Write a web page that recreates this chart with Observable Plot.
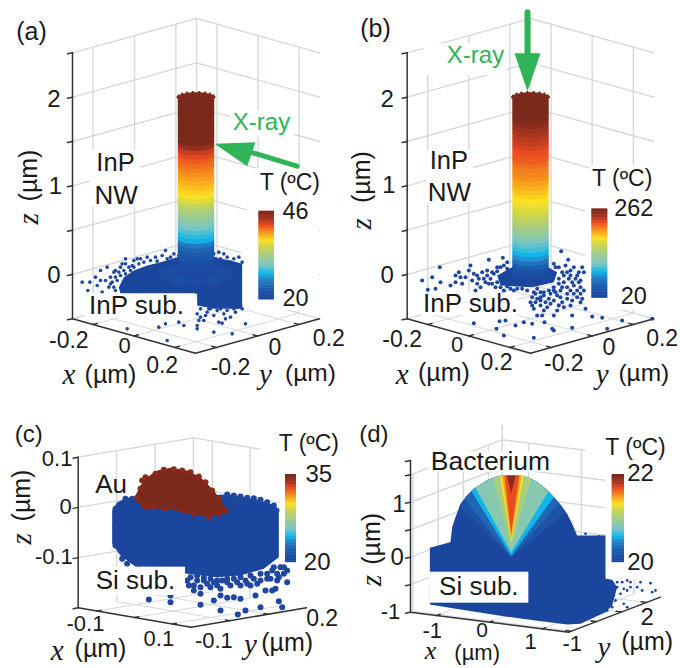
<!DOCTYPE html>
<html><head><meta charset="utf-8">
<script src="https://cdn.jsdelivr.net/npm/d3@7"></script>
<script src="https://cdn.jsdelivr.net/npm/@observablehq/plot@0.6"></script>
<style>html,body{margin:0;padding:0;background:#fff}svg{display:block}</style>
</head><body><div id="chart"></div>
<script>
// ---------- values ----------
const nwZ = [0,.05,.1,.15,.2,.25,.3,.35,.4,.45,.5,.55,.6,.65,.7,.75,.8,.85,.9,.95,1,1.05,1.1,1.15,1.2,1.25,1.3,1.35,1.4,1.45,1.5,1.55,1.6,1.65,1.7,1.75,1.8,1.85,1.9,1.95];
const nwTempA = [20.1,20.3,20.8,21.3,22.1,22.8,23.8,25.2,27.3,28.1,29.1,29.9,30.9,32,33,34,35.1,36.4,37.2,38,38.5,39,39.5,40,40.5,41,41.6,42.3,43.1,44.7,46,46,46,46,46,46,46,46,46,46];
const nwTempB = [25,35,49,64,80,90,100,107,117,126,136,143,151,158,168,172,177,182,187,192,197,201,206,209,211,216,221,223,226,231,235,238,243,247,255,260,262,262,262,262];
const tempRangeA = [20,46], tempRangeB = [20,262], tempRangeC = [20,35], tempRangeD = [20,22];

// scattered points and silhouettes of each panel, in the panel's picture plane
const scatterA = [[245,845],[262,870],[268,845],[285,830],[290,855],[300,810],[320,800],[305,875],[315,840],[330,830],[345,810],[350,840],[365,790],[375,790],[400,780],[340,860],[355,815],[325,860],[300,840],[370,810],[385,800],[420,775],[440,770],[465,770],[495,750],[485,765],[520,760],[510,770],[640,760],[655,755],[680,770],[700,775],[715,770],[660,775],[690,785],[600,950],[620,935],[640,945],[655,965],[670,940],[690,950],[710,920],[720,915],[590,985],[640,995],[695,1000],[735,970],[500,1020],[380,985],[475,980],[495,970],[535,965],[550,975],[590,975],[665,968],[610,960],[600,925],[630,925],[650,930],[680,930],[700,925],[590,940],
 [335,845],[345,830],[360,825],[340,815],[375,820],[390,810],[400,800],[415,790],[430,785],[450,780],[470,782],[500,775],[535,765],[410,775],[360,800],[345,870],[330,850],[375,775],[395,795],[645,775],[670,760],[705,790],[725,785],[625,925],[660,925],[615,945],[675,955],[705,935],[725,925],[595,960]];
const massA = [[355,860],[370,830],[400,810],[440,795],[480,785],[530,770],[640,770],[690,780],[725,790],[725,925],[690,925],[640,925],[590,915],[590,880],[360,880]];
const scatterB = [[245,840],[275,830],[298,800],[262,868],[285,865],[300,845],[330,855],[345,825],[355,815],[360,830],[345,845],[390,795],[385,810],[400,820],[410,825],[395,840],[410,850],[425,815],[445,778],[487,772],[480,800],[440,810],[455,815],[470,800],[490,795],[430,835],[445,850],[420,860],[405,870],[465,860],[490,870],[510,865],[530,865],[500,785],[662,752],[683,778],[640,790],[655,800],[675,795],[690,810],[700,800],[715,815],[725,800],[720,840],[705,835],[685,835],[670,825],[700,855],[720,860],[680,860],[660,870],[640,860],[625,870],[600,875],[580,875],[575,890],[570,905],[590,895],[610,885],[630,880],[650,885],[680,880],[700,880],[720,880],[730,870],[725,895],[695,900],[665,905],[640,900],[615,905],[600,915],[575,915],[620,920],[650,930],[670,920],[590,945],[605,945],[640,945],[695,945],[735,925],[400,968],[477,962],[495,960],[468,985],[550,965],[575,970],[525,975],[490,1005],[580,1012],[635,985],[640,990],[612,965],[695,982],[755,948],[785,952],[800,985],[845,960],[935,955],
 [440,825],[450,835],[460,820],[470,845],[455,850],[480,860],[500,858],[520,870],[545,865],[560,870],[435,845],[470,812],[500,805],[415,835],[375,830],[365,850],[645,800],[665,815],[680,815],[655,835],[690,825],[710,825],[695,845],[670,845],[655,850],[640,870],[610,875],[590,865],[665,860],[690,870],[710,870],[715,845],[730,815],[585,880],[600,890],[625,895],[645,875],[660,890],[680,895],[710,890],[585,905],[600,900],[630,910],[580,925],[610,930],[655,915],[690,915],[720,905]];
const massB = [[470,825],[515,800],[623,800],[650,815],[640,845],[575,860],[480,855]];
const scatterC = [[445,567],[510,575],[510,555],[600,550],[600,583],[640,570],[660,600],[660,555],[680,562],[700,560],[712,612],[735,600],[780,590],[720,565],[765,555],[795,540],[815,540],[825,535],[835,572],[845,590],[860,515],[860,480],[830,510],[810,505],[780,510],[750,525],[720,525],[690,525],[660,535],[630,530],[600,530],[580,540],[565,525],[570,500],[590,510],[610,510],[640,515],[665,510],[700,505],[735,510],[760,505],[800,490],[840,470],[850,470],[820,470],[345,295],[345,320],[345,350],[345,385],[345,405],[360,420],[365,445],[380,460],[410,462],[375,265],[395,265],[680,252],[700,255],[720,258],[740,262],[760,263],[780,268],[800,275],[820,285],[828,300],
 [590,495],[610,500],[630,505],[650,510],[680,505],[720,500],[750,495],[780,490],[560,510],[580,525],[620,520],[650,525],[680,515],[710,515],[740,520],[770,520],[800,505],[830,490],[815,480],[850,490],[835,500],[420,465],[440,470],[460,468]];
const massC = [[335,300],[350,275],[380,262],[680,252],[740,262],[800,275],[835,295],[835,440],[790,475],[720,495],[650,500],[560,490],[470,470],[400,465],[360,435],[335,400]];
const edgeAu = [[425,210],[420,235],[435,200],[410,262],[430,285],[460,290],[495,295],[520,290],[550,300],[580,310],[625,320],[655,310],[675,300],[440,290],[465,190],[490,178],[520,176],[545,180],[570,185],[595,198],[615,215],[635,240],[655,265]];
const domeAu = [[405,255],[420,225],[440,200],[470,180],[510,172],[560,180],[600,200],[640,240],[665,275],[680,300],[660,310],[625,320],[580,312],[530,300],[480,295],[430,290],[405,270]];
const scatterD = [[735,370],[745,385],[725,385],[760,380],[775,378],[785,380],[750,398],[770,395],[730,395],[815,520],[830,515],[845,515],[860,510],[870,515],[900,515],[930,518],[935,545],[905,540],[890,530],[850,535],[830,530],[815,540],[860,540],[870,530],[840,550],[820,555],[810,575],[825,570],[850,580],[815,590],[800,600],[860,590],[945,540]];
const massD = [[268,412],[330,395],[335,350],[345,320],[360,280],[380,255],[400,235],[420,222],[440,210],[460,201],[480,195],[540,195],[565,202],[590,215],[615,235],[640,260],[660,283],[680,310],[695,340],[710,375],[795,375],[795,505],[815,508],[830,530],[815,585],[795,605],[720,640],[680,642],[590,631],[480,616],[360,597],[268,582]];
const fanLevels = [.07,.15,.29,.42,.52,.66,.75,.85,.98];
const fanShapes = [
 [[512,442],[356,288],[380,255],[400,235],[420,222],[440,210],[460,201],[480,195],[540,195],[565,202],[590,215],[615,235],[640,260],[660,283],[676,305]],
 [[512,440],[372,265],[380,255],[400,235],[420,222],[440,210],[460,201],[480,195],[540,195],[565,202],[590,215],[615,235],[640,260],[656,278]],
 [[512,436],[392,241],[400,235],[420,222],[440,210],[460,201],[480,195],[540,195],[565,202],[590,215],[615,235],[640,260]],
 [[512,425],[404,231],[420,222],[440,210],[460,201],[480,195],[540,195],[565,202],[590,215],[615,235],[624,243]],
 [[512,410],[458,200],[460,201],[480,195],[540,195],[565,202],[572,205]],
 [[512,395],[478,195],[550,195]],
 [[512,385],[485,195],[543,195]],
 [[512,370],[492,195],[536,195]],
 [[512,250],[500,195],[525,195]]
];

const panels = {
 a:{ox:0,oy:0,L:[216,955],F:[585,1058],R:[957,955],H:798,xd:[-.3,.3],yd:[-.3,.3],zd:[-.5,2.5],xt:[-.2,0,.2],yt:[-.2,0,.2],zt:[-.5,0,.5,1,1.5,2,2.5],bar:[775,822,632,897]},
 b:{ox:340,oy:0,L:[200,955],F:[570,1058],R:[940,955],H:798,xd:[-.3,.3],yd:[-.3,.3],zd:[-.5,2.5],xt:[-.2,0,.2],yt:[-.2,0,.2],zt:[-.5,0,.5,1,1.5,2,2.5],bar:[754,802,625,892]},
 c:{ox:0,oy:410,L:[233,592],F:[572,650],R:[918,592],H:452,xd:[-.15,.15],yd:[-.4,.5],zd:[-.2,.1],xt:[-.1,0,.1],yt:[-.1,.2],zt:[-.1,0,.1],bar:[855,888,192,455]},
 d:{ox:340,oy:410,L:[210,605],F:[685,665],R:[960,560],H:455,xd:[-1.5,1.5],yd:[-1.1,2.55],zd:[-1,1.76],xt:[-1,0,1],yt:[-1,0,1,2],zt:[-.5,0,.5,1,1.5],bar:[815,852,192,455]}
};
const whites = {
 a:[[725,957,630,930],[765,975,505,630],[690,880,330,410],[270,420,450,620]],
 b:[[735,945,620,930],[750,945,495,620],[250,500,130,225],[258,400,450,610]],
 c:[[780,1020,60,190],[838,1020,190,590]],
 d:[[735,1000,75,190],[795,1000,190,505],[265,635,125,185]]
};
const labelBoxes = {
 a:[[255,585,880,955]], b:[[245,530,880,945]], c:[[278,555,470,555]], d:[[268,565,485,578]]
};
const S="Liberation Sans", I="Liberation Serif", G="#2fb457", K="#1a1a1a";
const texts = {
 a:[["(a)",93,95,25],["2",160,295,24],["1",165,558,24],["0",160,825,24],["InP",345,487,25.5],["NW",347,585,26],["X-ray",783,365,24,S,G],["T (ºC)",868,545,23],["46",885,632,23.5],["20",885,895,23.5],["InP sub.",408,915,26],["-0.2",205,1020,23],["0",372,1036,22],["0.2",485,1095,23],["-0.2",690,1100,23],["0",823,1040,23],["0.2",985,1015,23],["(µm)",330,1122,25],["(µm)",930,1118,24.5]],
 b:[["(b)",105,85,25],["2",140,295,24],["1",145,553,24],["0",140,825,24],["InP",325,480,25.5],["NW",327,578,26],["X-ray",405,163,24,S,G],["T (ºC)",845,535,23],["262",880,625,23.5],["20",880,888,23.5],["InP sub.",390,910,26],["-0.2",185,1018,23],["0",350,1034,22],["0.2",468,1085,23],["-0.2",670,1090,23],["0",805,1040,23],["0.2",965,1015,23],["(µm)",310,1118,25],["(µm)",910,1118,24.5]],
 c:[["(c)",85,70,24],["0.1",170,145,22],["0",195,290,22],["-0.1",160,440,22],["Au",332,222,26],["T (ºC)",925,100,23],["35",955,190,24],["20",950,455,24],["Si sub.",405,510,26],["-0.1",255,640,22],["0.1",475,685,22],["-0.1",640,690,22],["0.2",965,625,23],["(µm)",300,715,25],["(µm)",860,697,25]],
 d:[["(d)",100,72,24],["Bacterium",450,152,26.5],["1",175,280,24],["0",170,440,24],["-1",150,605,22],["T (ºC)",885,110,23],["22",900,188,24],["20",900,455,24],["Si sub.",415,530,26],["-1",275,660,22],["0",425,658,21],["1",570,695,22],["-1",695,700,22],["2",920,620,24],["(µm)",410,726,22],["(µm)",920,695,25]]
};
const axisVars = {
 a:[["x",205,1122,0],["y",795,1122,0],["z",85,655,-90],["(µm)",85,525,-90,S]],
 b:[["x",185,1122,0],["y",785,1122,0],["z",65,670,-90],["(µm)",65,530,-90,S]],
 c:[["x",170,720,0],["y",750,702,0],["z",65,385,-90],["(µm)",65,255,-90,S]],
 d:[["x",270,722,0],["y",790,712,0],["z",95,510,-90],["(µm)",95,385,-90,S]]
};
const arrowA = {shaft:[[750,455],[890,497]], head:[[642,430],[765,425],[740,497]]};
const arrowB = {shaft:[[561,35],[561,165]], head:[[522,158],[600,158],[561,272]]};

// jet-like temperature colour map, from the colour bars
const mapStops = [0,.12,.22,.29,.38,.5,.62,.67,.75,.85,.92,1];
const mapColors = ["#1b469e","#1c5cae","#2480c4","#12b5ea","#78c6c4","#a2cc88","#d8d840","#fde222","#f8a01c","#ea4a20","#a83420","#7a291a"];

// ---------- drawing ----------
const pic = (P,[u,v]) => ({px:P.ox+u/3, py:P.oy+v/3});
function proj(P,x,y,z){
  const fx=(x-P.xd[0])/(P.xd[1]-P.xd[0]), fy=(y-P.yd[0])/(P.yd[1]-P.yd[0]), fz=(z-P.zd[0])/(P.zd[1]-P.zd[0]);
  return pic(P,[P.L[0]+fx*(P.F[0]-P.L[0])+fy*(P.R[0]-P.F[0]), P.L[1]+fx*(P.F[1]-P.L[1])+fy*(P.R[1]-P.F[1])-fz*P.H]);
}
const marks=[];
const seg=(a,b,o)=>marks.push(Plot.line([a,b],{x:"px",y:"py",curve:"linear",...o}));
const poly=(pts,o)=>marks.push(Plot.line(pts,{x:"px",y:"py",curve:"linear",stroke:"none",...o}));
const gridStyle={stroke:"#d4d9df",strokeWidth:1.4};
const axisStyle={stroke:"#333",strokeWidth:1.5};

function drawGrid(P){
  const [x0,x1]=P.xd,[y0,y1]=P.yd,[zb,zm]=P.zd;
  const gtop=P===panels.d?1.5:zm;
  for(const z of P.zt){
    seg(proj(P,x0,y0,z),proj(P,x0,y1,z),gridStyle);
    seg(proj(P,x0,y1,z),proj(P,x1,y1,z),gridStyle);
  }
  for(const y of P.yt) seg(proj(P,x0,y,zb),proj(P,x0,y,gtop),gridStyle);
  for(const x of P.xt) seg(proj(P,x,y1,zb),proj(P,x,y1,gtop),gridStyle);
  seg(proj(P,x0,y1,zb),proj(P,x0,y1,zm),gridStyle);
  for(const x of P.xt) seg(proj(P,x,y0,zb),proj(P,x,y1,zb),{...gridStyle,strokeWidth:1});
  for(const y of P.yt) seg(proj(P,x0,y,zb),proj(P,x1,y,zb),{...gridStyle,strokeWidth:1});
}
function drawAxes(P){
  const [x0,x1]=P.xd,[y0,y1]=P.yd,[zb,zm]=P.zd, dy=(y1-y0)*.035, dx=(x1-x0)*.035;
  seg(proj(P,x0,y0,zb),proj(P,x0,y0,zm),axisStyle);
  seg(proj(P,x0,y0,zb),proj(P,x1,y0,zb),axisStyle);
  seg(proj(P,x1,y0,zb),proj(P,x1,y1,zb),axisStyle);
  for(const x of P.xt) seg(proj(P,x,y0,zb),proj(P,x,y0+dy,zb),axisStyle);
  for(const y of P.yt) seg(proj(P,x1,y,zb),proj(P,x1-dx,y,zb),axisStyle);
  const zs=[...new Set([...P.zt,zm,zb])];
  for(const z of zs){const a=proj(P,x0,y0,z); seg({px:a.px-5,py:a.py+1},a,axisStyle);}
}
const rects=(P,list,fill)=>marks.push(Plot.rect(list.map(r=>({a:P.ox+r[0]/3,b:P.ox+r[1]/3,c:P.oy+r[2]/3,d:P.oy+r[3]/3})),{x1:"a",x2:"b",y1:"c",y2:"d",fill}));
const dots=(P,list,r,fill)=>marks.push(Plot.dot(list.map(p=>({...pic(P,p),level:0})),{x:"px",y:"py",r,fill,stroke:"none"}));
const levelFill=(pts,level,key)=>pts.map(p=>({...p,level,key}));
function shape(P,list,level,key){poly(levelFill(list.map(p=>pic(P,p)),level,key),{fill:"level",z:"key"});}

function drawColumn(P,temps,range,radius){
  const angles=[-135,-115,-95,-75,-55,-35,-15,5,25,45].map(d=>d*Math.PI/180);
  const backAngles=angles.map(a=>a+Math.PI);
  const norm=t=>(t-range[0])/(range[1]-range[0]);
  const arc=(z,as)=>as.map(a=>proj(P,radius*Math.cos(a),radius*Math.sin(a),z));
  const rows=[];
  nwZ.forEach((z,i)=>{
    const top=(nwZ[i+1]??2)+.012;
    const pts=[...arc(z,angles),...arc(top,angles).reverse()];
    pts.forEach(p=>rows.push({...p,level:norm(temps[i]),key:i}));
  });
  poly(rows,{fill:"level",z:"key"});
  const cap=[...arc(2,angles),...arc(2,backAngles)];
  poly(levelFill(cap,1,"cap"),{fill:"level",z:"key"});
  marks.push(Plot.dot(levelFill(arc(2,backAngles),1,"cap"),{x:"px",y:"py",r:1.3,fill:"level"}));
}
function drawBar(P){
  const [u0,u1,v0,v1]=P.bar, n=60;
  const cells=d3.range(n).map(i=>({level:i/(n-1),x1:P.ox+u0/3,x2:P.ox+u1/3,y1:P.oy+(v1-(v1-v0)*i/n)/3+.5,y2:P.oy+(v1-(v1-v0)*(i+1)/n)/3}));
  marks.push(Plot.rect(cells,{x1:"x1",x2:"x2",y1:"y1",y2:"y2",fill:"level"}));
}
function drawTexts(P,key){
  for(const [t,u,v,size,font,fill] of texts[key]){
    marks.push(Plot.text([{...pic(P,[u,v]),t}],{x:"px",y:"py",text:"t",fontSize:size,fontFamily:font||S,fill:fill||K,lineAnchor:"middle"}));
  }
  for(const [t,u,v,rotate,font] of axisVars[key]){
    const it=!font;
    marks.push(Plot.text([{...pic(P,[u,v]),t}],{x:"px",y:"py",text:"t",rotate,fontSize:it?(key==="d"&&rotate===0&&t==="x"?26:29):25,fontFamily:font||I,fontStyle:it?"italic":"normal",fill:K,lineAnchor:"middle"}));
  }
}
function drawArrow(P,A){
  seg(pic(P,A.shaft[0]),pic(P,A.shaft[1]),{stroke:G,strokeWidth:P===panels.a?5:6});
  poly(A.head.map(p=>pic(P,p)),{fill:G});
}

// (a)
let P=panels.a;
drawGrid(P); rects(P,whites.a,"white");
dots(P,scatterA,1.8,"#1f47a0");
shape(P,massA,0,"m");
{const as=d3.range(0,361,20).map(d=>d*Math.PI/180);
 poly(levelFill(as.map(a=>proj(P,.127*Math.cos(a),.127*Math.sin(a),0)),.04,"e"),{fill:"level",z:"key"});}
drawColumn(P,nwTempA,tempRangeA,.0625);
rects(P,labelBoxes.a,"white"); drawAxes(P); drawBar(P); drawArrow(P,arrowA); drawTexts(P,"a");
// (b)
P=panels.b;
drawGrid(P); rects(P,whites.b,"white");
dots(P,scatterB,2,"#1f47a0");
shape(P,massB,0,"m");
drawColumn(P,nwTempB,tempRangeB,.0625);
rects(P,labelBoxes.b,"white"); drawAxes(P); drawBar(P); drawArrow(P,arrowB); drawTexts(P,"b");
// (c)
P=panels.c;
drawGrid(P); rects(P,whites.c,"white");
shape(P,massC,0,"m");
dots(P,scatterC,3,"#1f47a0");
shape(P,domeAu,1,"au");
dots(P,edgeAu,3,"#8a2a1c");
rects(P,labelBoxes.c,"white"); drawAxes(P); drawBar(P); drawTexts(P,"c");
// (d)
P=panels.d;
drawGrid(P); rects(P,whites.d,"white");
dots(P,scatterD,1.4,"#1f47a0");
shape(P,massD,0,"m");
fanShapes.forEach((s,i)=>shape(P,s,fanLevels[i],"f"+i));
rects(P,labelBoxes.d,"white"); drawAxes(P); drawBar(P); drawTexts(P,"d");

const chart=Plot.plot({
  width:680,height:668,margin:0,
  style:{background:"#fff"},
  x:{domain:[0,680],axis:null},
  y:{domain:[668,0],axis:null},
  color:{type:"linear",domain:mapStops,range:mapColors,clamp:true},
  marks
});
document.getElementById("chart").append(chart);
</script></body></html>
